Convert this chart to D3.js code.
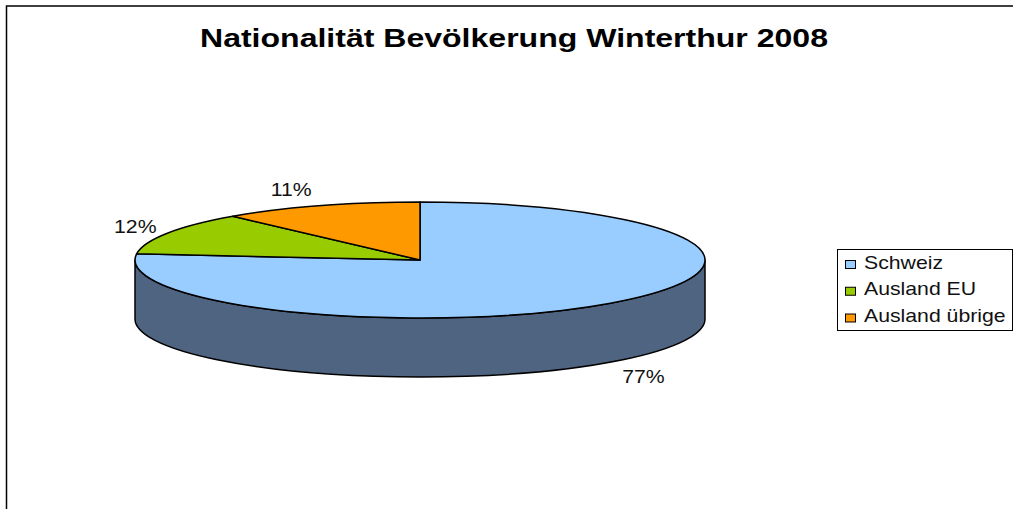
<!DOCTYPE html>
<html>
<head>
<meta charset="utf-8">
<script src="https://cdn.jsdelivr.net/npm/d3@7"></script>
<style>
  html, body { margin: 0; padding: 0; background: #fff; overflow: hidden; }
  svg { display: block; font-family: "Liberation Sans", Arial, sans-serif; fill: #111; }
  .slice { stroke: #000; stroke-width: 1.5; stroke-linejoin: round; }
</style>
</head>
<body>
<svg id="chart" width="1013" height="509"></svg>
<script>
const title = 'Nationalität Bevölkerung Winterthur 2008';
const categories = ['Schweiz', 'Ausland EU', 'Ausland übrige'];
const values = [76.7, 11.9, 11.4];
const labels = ['77%', '12%', '11%'];
const colors = ['#99ccff', '#99cc00', '#ff9900'];
const wallColor = '#4f6480';

const svg = d3.select('#chart');
const cx = 420, cy = 260, rx = 285, ry = 58, depth = 59;
const textStretch = 1.18; // original text is wider than it is tall

// frame only shows on top and left in the original
svg.append('path').attr('d', 'M6.5,509 V6 H1013').attr('fill', 'none').attr('stroke', '#000').attr('stroke-width', 1.5);

svg.append('text').attr('x', 514).attr('y', 47).attr('text-anchor', 'middle')
  .attr('font-size', 25).attr('font-weight', 'bold').attr('fill', '#000')
  .attr('textLength', 628).attr('lengthAdjust', 'spacingAndGlyphs').text(title);

const arcs = d3.pie().sort(null)(values);

// squashed circle: angle -> screen position
const px = a => cx + rx * Math.sin(a);
const py = a => cy - ry * Math.cos(a);

// side wall, lower half of the ellipse moved down by depth
svg.append('path').attr('class', 'slice').attr('fill', wallColor)
  .attr('d', `M${cx + rx},${cy} V${cy + depth} A${rx},${ry} 0 0 1 ${cx - rx},${cy + depth} V${cy} A${rx},${ry} 0 0 0 ${cx + rx},${cy} Z`);

svg.selectAll('path.top').data(arcs).enter().append('path')
  .attr('class', 'slice top')
  .attr('fill', (d, i) => colors[i])
  .attr('d', d => {
    const large = d.endAngle - d.startAngle > Math.PI ? 1 : 0;
    return `M${cx},${cy} L${px(d.startAngle)},${py(d.startAngle)} A${rx},${ry} 0 ${large} 1 ${px(d.endAngle)},${py(d.endAngle)} Z`;
  });

const labelOffsets = [[33, 79.5], [-32, 0], [-29, -9.5]];
svg.selectAll('text.pct').data(arcs).enter().append('text')
  .attr('class', 'pct')
  .attr('text-anchor', 'middle')
  .attr('font-size', 18)
  .attr('transform', (d, i) => {
    const mid = (d.startAngle + d.endAngle) / 2;
    return `translate(${px(mid) + labelOffsets[i][0]},${py(mid) + labelOffsets[i][1]}) scale(${textStretch},1)`;
  })
  .text((d, i) => labels[i]);

// legend
svg.append('rect').attr('x', 837.5).attr('y', 249.5).attr('width', 175).attr('height', 81)
  .attr('fill', '#fff').attr('stroke', '#000').attr('stroke-width', 1);
const rowY = d3.scalePoint().domain(categories).range([264.5, 318]);
const rows = svg.selectAll('g.row').data(categories).enter().append('g')
  .attr('class', 'row').attr('transform', d => `translate(0,${rowY(d)})`);
rows.append('rect').attr('x', 845.5).attr('y', -4).attr('width', 10).attr('height', 8)
  .attr('fill', (d, i) => colors[i]).attr('stroke', '#000').attr('stroke-width', 1);
rows.append('text').attr('transform', `translate(864,4) scale(${textStretch},1)`).attr('font-size', 18).text(d => d);
</script>
</body>
</html>
